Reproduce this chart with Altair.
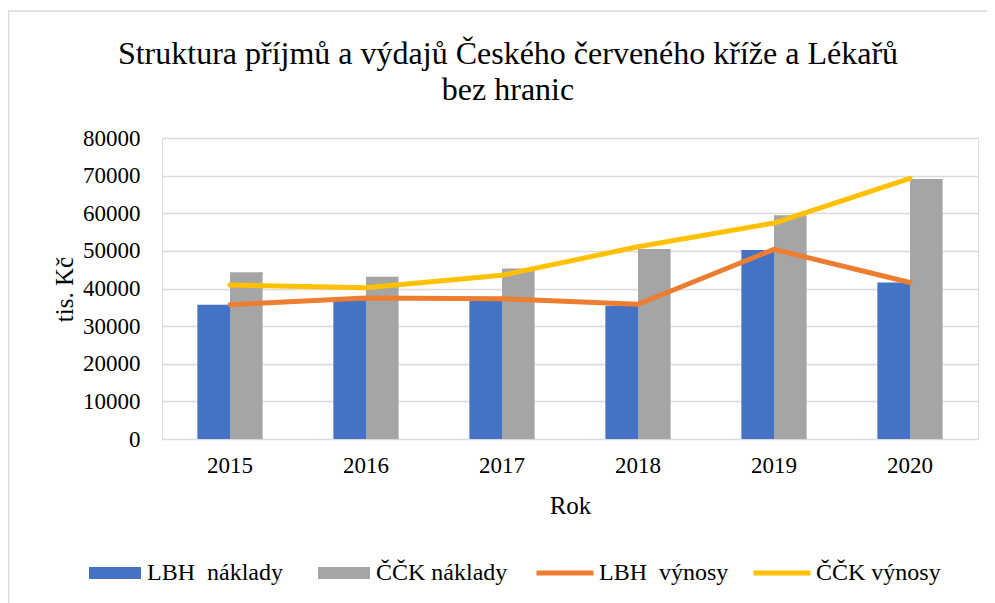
import altair as alt
import pandas as pd

years = ["2015", "2016", "2017", "2018", "2019", "2020"]
lbh_naklady = [35700, 36900, 36800, 35400, 50200, 41600]
cck_naklady = [44300, 43100, 45300, 50500, 59500, 69100]
lbh_vynosy = [35700, 37500, 37300, 35800, 50400, 41600]
cck_vynosy = [40900, 40200, 43500, 51100, 57400, 69300]

bar_series = ["LBH\u00a0 náklady", "ČČK náklady"]
line_series = ["LBH\u00a0 výnosy", "ČČK výnosy"]
y_ticks = [0, 10000, 20000, 30000, 40000, 50000, 60000, 70000, 80000]
title_lines = ["Struktura příjmů a výdajů Českého červeného kříže a Lékařů", "bez hranic"]

bar_colors = ["#4472C4", "#A5A5A5"]
line_colors = ["#ED7D31", "#FFC000"]

FONT = "Liberation Serif"

bar_rows = []
for s, vals in zip(bar_series, [lbh_naklady, cck_naklady]):
    for y, v in zip(years, vals):
        bar_rows.append({"year": y, "series": s, "value": v})
bar_df = pd.DataFrame(bar_rows)

line_rows = []
for s, vals in zip(line_series, [lbh_vynosy, cck_vynosy]):
    for y, v in zip(years, vals):
        line_rows.append({"year": y, "series": s, "value": v})
line_df = pd.DataFrame(line_rows)

x_scale = alt.Scale(domain=years, paddingInner=0.52, paddingOuter=0.26)
y_scale = alt.Scale(domain=[0, 80000])

x_axis = alt.Axis(
    title="Rok", labelAngle=0, domain=False, ticks=False, grid=False,
    labelFont=FONT, labelFontSize=23, labelColor="#000000", labelPadding=15,
    titleFont=FONT, titleFontSize=25, titleFontWeight="normal", titleColor="#000000",
    titleBaseline="alphabetic", titleY=74,
)
y_axis = alt.Axis(
    title="tis. Kč", values=y_ticks, format="d", domain=False, ticks=False,
    grid=True, gridColor="#D9D9D9", gridWidth=1.3,
    labelFont=FONT, labelFontSize=23, labelColor="#000000", labelPadding=22,
    titleFont=FONT, titleFontSize=25, titleFontWeight="normal", titleColor="#000000",
    titleAngle=-90, titleBaseline="alphabetic", titleX=-90, titleY=151, titleAlign="center",
)

one = pd.DataFrame({"a": [0]})

border = alt.Chart(one).mark_rect(
    fill=None, stroke="#D9D9D9", strokeWidth=1.5
).encode(
    x=alt.value(-153.5), x2=alt.value(2000), y=alt.value(-127), y2=alt.value(2000)
)

title = alt.Chart(one).mark_text(
    text=title_lines, font=FONT, fontSize=32, color="#000000",
    align="center", baseline="alphabetic", lineHeight=36,
).encode(x=alt.value(346), y=alt.value(-74))

bars = alt.Chart(bar_df).mark_bar().encode(
    x=alt.X("year:N", scale=x_scale, axis=x_axis),
    xOffset=alt.XOffset("series:N", sort=bar_series,
                        scale=alt.Scale(domain=bar_series, paddingInner=0, paddingOuter=0)),
    y=alt.Y("value:Q", scale=y_scale, axis=y_axis),
    fill=alt.Fill(
        "series:N", sort=bar_series,
        scale=alt.Scale(domain=bar_series, range=bar_colors),
        legend=alt.Legend(
            title=None, orient="none", legendX=-73, legendY=409, direction="horizontal",
            columns=2, symbolType="M-1,-0.23H1V0.23H-1Z", symbolSize=2704,
            symbolStrokeWidth=0, symbolOpacity=1, labelOffset=6, columnPadding=35,
            labelFont=FONT, labelFontSize=24, labelColor="#000000", labelLimit=300,
        ),
    ),
)

lines = alt.Chart(line_df).mark_line(strokeWidth=5, strokeCap="round", strokeJoin="round").encode(
    x=alt.X("year:N", scale=x_scale, axis=x_axis, bandPosition=0.5),
    y=alt.Y("value:Q", scale=y_scale, axis=y_axis),
    stroke=alt.Stroke(
        "series:N", sort=line_series,
        scale=alt.Scale(domain=line_series, range=line_colors),
        legend=alt.Legend(
            title=None, orient="none", legendX=372, legendY=404, direction="horizontal",
            columns=2, symbolType="stroke", symbolSize=3249, symbolStrokeWidth=5,
            labelOffset=3, columnPadding=14,
            labelFont=FONT, labelFontSize=24, labelColor="#000000", labelLimit=300,
        ),
    ),
)

chart = alt.layer(border, title, bars, lines).properties(
    width=816,
    height=301,
    autosize=alt.AutoSizeParams(type="none"),
    padding={"left": 154, "top": 130, "right": 9, "bottom": 164},
).configure_view(stroke=None).configure(background="#FFFFFF")

chart.save("out.html", embed_options={"renderer": "svg", "actions": False})
